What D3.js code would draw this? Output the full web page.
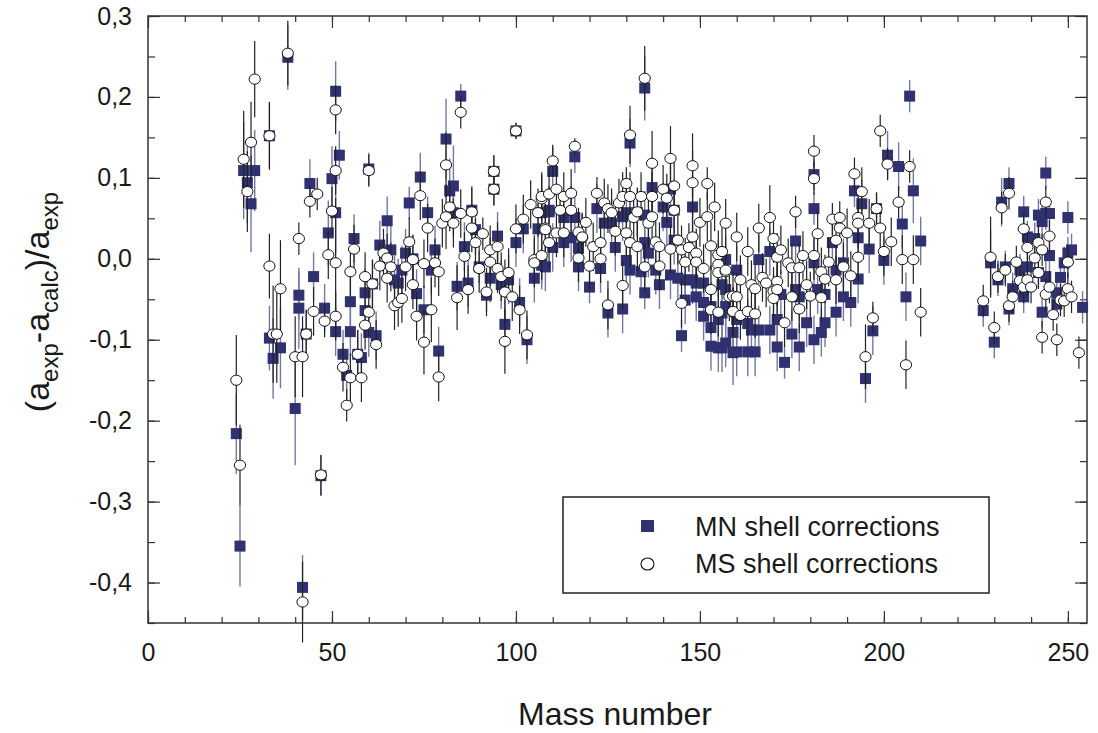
<!DOCTYPE html>
<html>
<head>
<meta charset="utf-8">
<script src="https://cdn.jsdelivr.net/npm/d3@7"></script>
<style>
  body { margin: 0; background: #fff; }
  svg text { font-family: "Liberation Sans", Arial, sans-serif; fill: #1a1a1a; }
</style>
</head>
<body>
<div id="chart"></div>
<script>
// [mass number, (a_exp - a_calc)/a_exp, error]
var mnPoints = [
  [24,-0.216,0.05],[25,-0.355,0.05],[26,0.109,0.06],[27,0.094,0.05],[28,0.068,0.06],[29,0.109,0.05],
  [33,0.152,0.04],[33,-0.098,0.04],[34,-0.123,0.05],[36,-0.110,0.05],[38,0.249,0.04],[40,-0.185,0.07],
  [41,-0.045,0.03],[41,-0.061,0.05],[42,-0.406,0.04],[43,-0.093,0.03],[44,0.093,0.03],[45,-0.022,0.03],
  [47,-0.268,0.025],[48,-0.061,0.03],[49,0.032,0.04],[50,0.099,0.04],[51,0.207,0.037],[51,0.057,0.05],
  [51,-0.090,0.03],[52,0.128,0.03],[53,-0.118,0.03],[54,-0.144,0.03],[55,-0.053,0.03],[55,-0.090,0.03],
  [56,0.025,0.03],[57,-0.118,0.03],[58,-0.122,0.03],[59,-0.042,0.03],[59,-0.064,0.03],[60,0.111,0.02],
  [60,-0.091,0.03],[61,-0.031,0.03],[62,-0.095,0.03],[63,0.017,0.03],[65,0.047,0.03],[66,0.011,0.03],
  [67,-0.026,0.03],[68,-0.030,0.03],[69,-0.014,0.03],[70,0.007,0.03],[71,0.069,0.02],[72,0.000,0.03],
  [73,-0.043,0.03],[74,0.101,0.03],[75,-0.063,0.03],[76,0.057,0.02],[77,-0.014,0.03],[78,0.011,0.03],
  [79,-0.114,0.03],[81,0.148,0.05],[82,0.084,0.04],[83,0.090,0.05],[83,0.057,0.03],[84,-0.034,0.03],
  [85,0.201,0.015],[86,0.015,0.03],[87,-0.030,0.03],[88,0.060,0.03],[89,0.036,0.03],[90,-0.010,0.02],
  [92,-0.045,0.02],[93,-0.024,0.03],[94,0.108,0.02],[94,0.086,0.02],[95,0.028,0.03],[96,-0.032,0.03],
  [97,-0.081,0.03],[98,-0.026,0.03],[100,0.158,0.01],[100,0.020,0.03],[101,-0.054,0.03],[102,0.037,0.03],
  [103,-0.100,0.03],[105,-0.024,0.03],[106,0.037,0.03],[107,0.057,0.03],[107,-0.008,0.03],[107,-0.001,0.03],
  [108,-0.010,0.03],[109,0.060,0.03],[109,0.058,0.03],[110,0.108,0.03],[110,0.014,0.03],[113,0.051,0.03],
  [113,0.020,0.03],[115,0.026,0.03],[116,0.126,0.02],[116,0.051,0.03],[117,0.013,0.03],[117,-0.010,0.03],
  [120,-0.035,0.02],[122,0.062,0.03],[123,-0.012,0.03],[124,0.044,0.03],[125,-0.067,0.03],[126,0.044,0.03],
  [127,0.014,0.03],[129,0.052,0.03],[129,-0.062,0.03],[130,0.057,0.03],[130,-0.002,0.03],[131,0.143,0.03],
  [131,-0.014,0.03],[133,0.057,0.03],[134,-0.016,0.03],[135,0.211,0.04],[135,0.054,0.03],[135,0.020,0.03],
  [135,-0.042,0.02],[136,0.007,0.03],[137,0.088,0.03],[138,-0.014,0.03],[139,-0.032,0.03],[140,0.064,0.03],
  [141,0.045,0.03],[142,0.086,0.03],[142,-0.020,0.03],[143,0.060,0.03],[143,0.023,0.03],[144,-0.024,0.03],
  [145,-0.095,0.02],[146,-0.026,0.03],[146,-0.051,0.03],[148,0.064,0.04],[148,-0.026,0.03],[149,-0.030,0.03],
  [149,-0.047,0.03],[151,-0.030,0.03],[151,-0.054,0.03],[151,-0.071,0.03],[153,-0.059,0.03],[153,-0.085,0.03],
  [153,-0.108,0.03],[155,-0.075,0.03],[155,-0.110,0.03],[156,-0.032,0.03],[156,-0.067,0.03],[156,-0.110,0.03],
  [157,-0.038,0.03],[157,-0.104,0.03],[157,-0.001,0.03],[157,-0.059,0.03],[159,-0.116,0.04],[159,-0.091,0.03],
  [160,-0.014,0.03],[160,-0.075,0.03],[160,-0.115,0.03],[163,-0.080,0.03],[163,-0.115,0.03],[164,-0.088,0.03],
  [165,-0.115,0.03],[166,-0.088,0.03],[166,-0.001,0.03],[169,-0.088,0.03],[169,0.009,0.03],[171,-0.109,0.03],
  [171,-0.075,0.03],[172,-0.044,0.03],[173,-0.128,0.02],[175,-0.093,0.03],[176,0.022,0.03],[176,-0.038,0.03],
  [177,-0.047,0.03],[177,-0.109,0.03],[179,-0.079,0.03],[181,-0.100,0.03],[181,0.104,0.02],[181,0.062,0.02],
  [181,-0.005,0.03],[182,-0.038,0.03],[183,-0.091,0.03],[184,-0.044,0.03],[184,-0.079,0.03],[186,0.020,0.03],
  [187,-0.014,0.03],[187,-0.066,0.03],[189,-0.005,0.03],[189,-0.047,0.03],[191,-0.054,0.03],[192,0.084,0.02],
  [193,0.026,0.03],[193,-0.025,0.03],[194,0.068,0.03],[195,-0.148,0.03],[196,0.012,0.03],[197,-0.089,0.03],
  [198,0.062,0.02],[200,-0.002,0.03],[201,0.128,0.03],[204,0.114,0.03],[205,0.043,0.03],[206,-0.047,0.03],
  [207,0.201,0.02],[208,0.084,0.04],[210,0.022,0.03],
  [227,-0.064,0.02],[229,-0.005,0.04],[230,-0.103,0.02],[231,-0.026,0.02],[232,0.070,0.03],[233,-0.010,0.02],
  [234,0.093,0.02],[234,-0.062,0.02],[235,-0.037,0.02],[237,-0.014,0.02],[238,0.058,0.02],[238,-0.047,0.02],
  [239,0.027,0.02],[239,-0.010,0.02],[241,0.025,0.02],[242,0.054,0.02],[242,-0.017,0.02],[243,0.046,0.02],
  [243,-0.066,0.02],[244,0.106,0.02],[244,0.056,0.02],[244,-0.022,0.02],[245,0.056,0.02],[245,0.004,0.02],
  [247,-0.042,0.02],[247,-0.056,0.02],[248,-0.023,0.02],[249,-0.005,0.02],[250,0.051,0.02],[250,0.007,0.02],
  [251,0.011,0.02],[254,-0.060,0.02]
];

var msPoints = [
  [24,-0.150,0.056],[25,-0.255,0.05],[26,0.123,0.06],[27,0.083,0.05],[28,0.144,0.05],[29,0.222,0.047],
  [33,0.152,0.042],[33,-0.009,0.04],[34,-0.093,0.06],[35,-0.093,0.06],[36,-0.037,0.06],[38,0.254,0.04],
  [40,-0.121,0.05],[41,0.025,0.02],[42,-0.121,0.05],[42,-0.424,0.05],[43,-0.093,0.03],[44,0.071,0.02],
  [45,-0.065,0.03],[46,0.080,0.02],[47,-0.267,0.025],[48,-0.077,0.02],[49,0.005,0.03],[50,0.059,0.03],
  [51,0.184,0.03],[51,0.109,0.03],[51,-0.005,0.08],[51,-0.071,0.03],[53,-0.134,0.03],[54,-0.181,0.02],
  [55,-0.016,0.03],[55,-0.147,0.03],[56,0.012,0.03],[57,-0.118,0.03],[58,-0.147,0.03],[59,-0.022,0.03],
  [59,-0.082,0.03],[60,0.109,0.02],[60,-0.066,0.03],[61,-0.031,0.03],[62,-0.106,0.03],[63,-0.009,0.03],
  [64,0.007,0.03],[65,0.001,0.03],[65,-0.024,0.03],[66,-0.010,0.03],[67,-0.058,0.03],[68,-0.054,0.03],
  [69,-0.049,0.03],[70,-0.010,0.03],[71,0.021,0.03],[72,-0.001,0.03],[72,-0.032,0.03],[73,-0.071,0.03],
  [74,0.078,0.03],[75,-0.006,0.03],[75,-0.103,0.04],[76,0.038,0.03],[77,-0.063,0.04],[78,-0.005,0.03],
  [79,-0.016,0.03],[79,-0.146,0.03],[80,0.044,0.03],[81,0.116,0.04],[81,0.052,0.04],[82,0.064,0.03],
  [83,0.044,0.03],[84,-0.048,0.04],[85,0.181,0.02],[85,0.056,0.03],[86,0.003,0.03],[87,-0.038,0.03],
  [88,0.058,0.03],[88,0.038,0.03],[89,0.020,0.03],[90,-0.012,0.03],[91,0.031,0.02],[92,-0.041,0.03],
  [93,0.011,0.03],[93,-0.004,0.03],[94,0.108,0.02],[94,0.086,0.02],[95,0.015,0.03],[95,-0.012,0.03],
  [96,-0.022,0.03],[97,-0.041,0.04],[97,-0.102,0.04],[98,-0.017,0.03],[99,-0.047,0.03],[100,0.158,0.01],
  [100,0.037,0.03],[101,-0.063,0.03],[102,0.049,0.03],[103,-0.094,0.03],[104,0.067,0.03],[105,-0.001,0.03],
  [105,-0.005,0.03],[106,0.057,0.03],[107,0.074,0.03],[107,0.077,0.03],[107,0.004,0.03],[108,0.038,0.03],
  [108,0.036,0.03],[109,0.080,0.03],[109,0.020,0.03],[110,0.121,0.02],[111,0.086,0.03],[111,0.032,0.03],
  [112,0.060,0.03],[113,0.077,0.03],[113,0.032,0.03],[115,0.060,0.03],[115,0.081,0.03],[116,0.139,0.01],
  [117,0.033,0.03],[117,0.001,0.03],[118,0.026,0.03],[118,0.027,0.03],[119,0.045,0.03],[120,-0.009,0.03],
  [121,0.015,0.03],[122,0.081,0.02],[123,0.020,0.03],[123,0.000,0.03],[124,0.069,0.03],[125,0.062,0.03],
  [125,-0.057,0.03],[126,0.057,0.03],[127,0.034,0.03],[128,0.069,0.03],[129,0.077,0.03],[129,-0.033,0.03],
  [130,0.093,0.02],[130,0.032,0.03],[131,0.153,0.036],[131,0.077,0.03],[131,0.020,0.03],[132,0.051,0.03],
  [133,0.058,0.03],[133,0.015,0.03],[134,0.077,0.03],[135,0.223,0.04],[135,-0.010,0.03],[136,0.044,0.03],
  [137,0.052,0.03],[137,0.118,0.04],[137,0.077,0.03],[138,0.021,0.03],[139,0.015,0.03],[139,-0.009,0.03],
  [140,0.086,0.03],[141,0.075,0.03],[142,0.124,0.04],[142,0.012,0.03],[143,0.090,0.03],[143,0.060,0.03],
  [144,0.023,0.03],[145,0.011,0.03],[145,-0.055,0.03],[146,-0.004,0.03],[147,0.014,0.03],[148,0.115,0.04],
  [148,0.094,0.04],[148,0.027,0.03],[149,0.007,0.03],[149,-0.004,0.03],[150,0.045,0.03],[151,-0.012,0.03],
  [152,0.093,0.02],[152,0.052,0.03],[153,0.016,0.03],[153,-0.038,0.03],[153,-0.063,0.03],[154,0.064,0.03],
  [155,0.005,0.03],[155,-0.007,0.03],[155,-0.017,0.03],[155,-0.066,0.03],[156,0.009,0.03],[157,0.044,0.03],
  [157,-0.016,0.03],[157,-0.014,0.03],[158,-0.047,0.03],[159,-0.046,0.03],[159,-0.066,0.03],[159,-0.065,0.03],
  [160,0.027,0.03],[160,-0.047,0.03],[161,-0.026,0.03],[161,-0.070,0.03],[163,0.009,0.03],[163,-0.065,0.03],
  [164,-0.032,0.03],[165,-0.037,0.03],[165,-0.068,0.03],[166,0.038,0.03],[167,-0.023,0.03],[168,-0.030,0.03],
  [169,0.051,0.04],[170,0.025,0.03],[170,-0.040,0.03],[170,-0.049,0.03],[171,0.002,0.03],[171,-0.028,0.03],
  [171,-0.038,0.03],[172,0.011,0.03],[173,-0.079,0.03],[174,-0.005,0.03],[175,-0.011,0.03],[175,-0.047,0.03],
  [176,0.058,0.02],[177,-0.011,0.03],[177,-0.062,0.03],[178,0.004,0.03],[179,-0.032,0.03],[180,-0.046,0.03],
  [181,0.133,0.02],[181,0.099,0.02],[181,0.004,0.03],[182,0.031,0.03],[183,-0.016,0.03],[183,-0.048,0.03],
  [184,-0.025,0.03],[185,-0.004,0.03],[186,0.049,0.02],[187,0.023,0.03],[187,-0.026,0.03],[188,0.051,0.02],
  [188,0.038,0.02],[189,-0.010,0.03],[190,0.032,0.03],[191,-0.021,0.03],[192,0.105,0.02],[193,0.051,0.03],
  [193,0.044,0.03],[193,0.002,0.03],[194,0.083,0.03],[195,-0.121,0.04],[196,0.044,0.03],[197,-0.073,0.02],
  [198,0.062,0.02],[199,0.158,0.02],[199,0.038,0.03],[200,0.009,0.03],[201,0.117,0.02],[202,0.021,0.03],
  [204,0.070,0.02],[205,-0.001,0.03],[206,-0.131,0.03],[207,0.114,0.02],[208,-0.001,0.03],[210,-0.066,0.03],
  [227,-0.052,0.02],[229,0.002,0.05],[230,-0.085,0.02],[231,-0.022,0.02],[232,0.063,0.02],[233,-0.014,0.02],
  [234,0.081,0.02],[234,-0.058,0.02],[235,-0.047,0.02],[236,-0.004,0.02],[237,-0.027,0.02],[238,0.037,0.02],
  [238,-0.035,0.02],[239,0.014,0.02],[239,-0.026,0.02],[240,-0.035,0.02],[241,0.001,0.02],[242,0.020,0.02],
  [242,-0.017,0.02],[243,0.011,0.02],[243,-0.097,0.02],[244,0.070,0.02],[244,-0.044,0.02],[245,0.028,0.02],
  [245,-0.035,0.02],[246,-0.069,0.02],[247,-0.100,0.02],[248,-0.051,0.02],[249,-0.052,0.02],[250,-0.004,0.02],
  [250,-0.037,0.02],[251,-0.047,0.02],[253,-0.116,0.02]
];

var xTickLabels = [0, 50, 100, 150, 200, 250];
var yTickLabels = [0.3, 0.2, 0.1, 0.0, -0.1, -0.2, -0.3, -0.4];
var legendLabels = ["MN shell corrections", "MS shell corrections"];

var width = 1098, height = 733;
var plotLeft = 148, plotRight = 1087, plotTop = 16, plotBottom = 623;
var navy = "#2f3171";

var svg = d3.select("#chart").append("svg")
  .attr("width", width)
  .attr("height", height);

var x = d3.scaleLinear().domain([0, 255.2]).range([plotLeft, plotRight]);
var y = d3.scaleLinear().domain([-0.45, 0.3]).range([plotBottom, plotTop]);

function fmtY(v) {
  return (v < 0 ? "-" : "") + Math.abs(v).toFixed(1).replace(".", ",");
}

// ticks (inward)
var xMinor = d3.range(0, 256, 10);
var yMinor = d3.range(-9, 7).map(function(i) { return i * 0.05; });

svg.append("g").attr("transform", "translate(0," + plotBottom + ")")
  .call(d3.axisBottom(x).tickValues(xMinor).tickSize(-6).tickFormat(""));
svg.append("g").attr("transform", "translate(0," + plotBottom + ")")
  .call(d3.axisBottom(x).tickValues(xTickLabels).tickSize(-12).tickPadding(20).tickFormat(d3.format("d")));
svg.append("g").attr("transform", "translate(0," + plotTop + ")")
  .call(d3.axisTop(x).tickValues(xMinor).tickSize(-6).tickFormat(""));
svg.append("g").attr("transform", "translate(0," + plotTop + ")")
  .call(d3.axisTop(x).tickValues(xTickLabels).tickSize(-12).tickFormat(""));

svg.append("g").attr("transform", "translate(" + plotLeft + ",0)")
  .call(d3.axisLeft(y).tickValues(yMinor).tickSize(-7).tickFormat(""));
svg.append("g").attr("transform", "translate(" + plotLeft + ",0)")
  .call(d3.axisLeft(y).tickValues(yTickLabels).tickSize(-12).tickPadding(16).tickFormat(fmtY));
svg.append("g").attr("transform", "translate(" + plotRight + ",0)")
  .call(d3.axisRight(y).tickValues(yMinor).tickSize(-7).tickFormat(""));
svg.append("g").attr("transform", "translate(" + plotRight + ",0)")
  .call(d3.axisRight(y).tickValues(yTickLabels).tickSize(-12).tickFormat(""));

svg.selectAll(".domain").remove();
svg.selectAll(".tick line").attr("stroke", "#333").attr("stroke-width", 1.2);
svg.selectAll(".tick text").style("font-size", "25px").attr("fill", "#1a1a1a");

// frame
svg.append("rect")
  .attr("x", plotLeft).attr("y", plotTop)
  .attr("width", plotRight - plotLeft).attr("height", plotBottom - plotTop)
  .attr("fill", "none").attr("stroke", "#333").attr("stroke-width", 1.5);

var plot = svg.append("g");

// MN error bars and squares
plot.selectAll(".mnErr").data(mnPoints).join("line")
  .attr("class", "mnErr")
  .attr("x1", function(d) { return x(d[0]); }).attr("x2", function(d) { return x(d[0]); })
  .attr("y1", function(d) { return y(d[1] - d[2]); }).attr("y2", function(d) { return y(d[1] + d[2]); })
  .attr("stroke", "#7577a3").attr("stroke-width", 1.4);

plot.selectAll(".mn").data(mnPoints).join("rect")
  .attr("class", "mn")
  .attr("x", function(d) { return x(d[0]) - 5.5; }).attr("y", function(d) { return y(d[1]) - 5.5; })
  .attr("width", 11).attr("height", 11)
  .attr("fill", navy);

// MS error bars and circles
plot.selectAll(".msErr").data(msPoints).join("line")
  .attr("class", "msErr")
  .attr("x1", function(d) { return x(d[0]); }).attr("x2", function(d) { return x(d[0]); })
  .attr("y1", function(d) { return y(d[1] - d[2]); }).attr("y2", function(d) { return y(d[1] + d[2]); })
  .attr("stroke", "#222").attr("stroke-width", 1.2);

plot.selectAll(".ms").data(msPoints).join("ellipse")
  .attr("class", "ms")
  .attr("cx", function(d) { return x(d[0]); }).attr("cy", function(d) { return y(d[1]); })
  .attr("rx", 5.6).attr("ry", 5.1)
  .attr("fill", "#fff").attr("stroke", "#111").attr("stroke-width", 1);

// axis titles
svg.append("text")
  .attr("x", 615).attr("y", 725)
  .attr("text-anchor", "middle")
  .style("font-size", "32px")
  .text("Mass number");

var yt = svg.append("text")
  .attr("transform", "translate(49,302) rotate(-90)")
  .attr("text-anchor", "middle")
  .style("font-size", "34px");
yt.append("tspan").text("(a");
yt.append("tspan").attr("dy", 9).style("font-size", "24px").text("exp");
yt.append("tspan").attr("dy", -9).text("-a");
yt.append("tspan").attr("dy", 9).style("font-size", "24px").text("calc");
yt.append("tspan").attr("dy", -9).text(")/a");
yt.append("tspan").attr("dy", 9).style("font-size", "24px").text("exp");

// legend
var lg = svg.append("g");
lg.append("rect")
  .attr("x", 563).attr("y", 497).attr("width", 426).attr("height", 96)
  .attr("fill", "#fff").attr("stroke", "#222").attr("stroke-width", 1.5);
lg.append("rect").attr("x", 641).attr("y", 520).attr("width", 13).attr("height", 12).attr("fill", navy);
lg.append("ellipse").attr("cx", 647.5).attr("cy", 564).attr("rx", 6.5).attr("ry", 6)
  .attr("fill", "#fff").attr("stroke", "#111").attr("stroke-width", 1.1);
lg.selectAll(".lt").data(legendLabels).join("text")
  .attr("class", "lt")
  .attr("x", 695).attr("y", function(d, i) { return 536 + i * 37; })
  .style("font-size", "27px")
  .text(function(d) { return d; });
</script>
</body>
</html>
